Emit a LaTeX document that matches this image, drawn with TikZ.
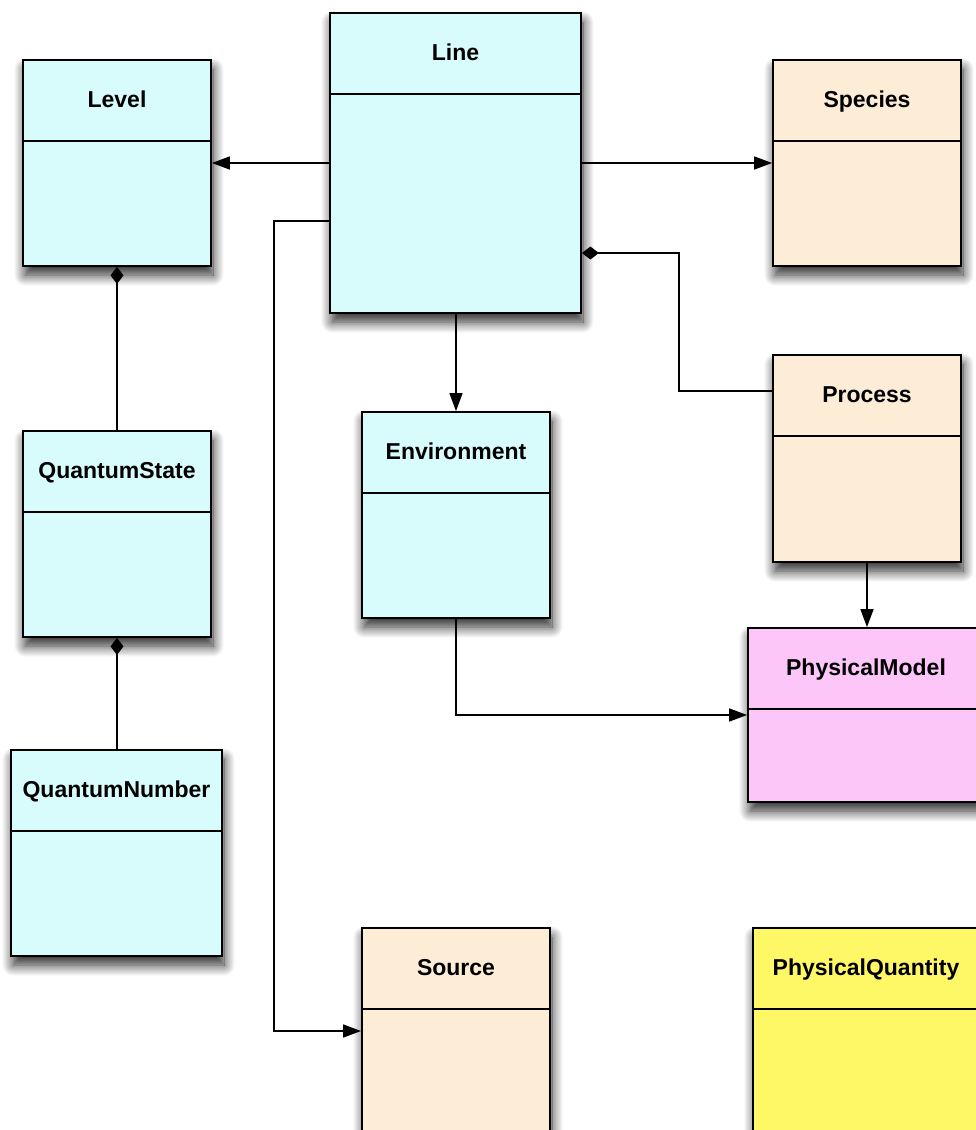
\documentclass[tikz,border=0pt]{standalone}
\usepackage{fontspec}
\setmainfont{Liberation Sans}
\usetikzlibrary{arrows.meta,shadows.blur,calc}
\definecolor{cyanc}{RGB}{216,252,252}
\definecolor{peach}{RGB}{253,236,214}
\definecolor{pinkc}{RGB}{252,198,248}
\definecolor{yellowc}{RGB}{255,248,102}
\tikzset{
  classbox/.style={draw=black, line width=1.8pt, rectangle, inner sep=0pt,
    blur shadow={shadow xshift=2pt, shadow yshift=-9pt, shadow blur radius=11pt, shadow opacity=85, shadow blur steps=14}},
  titletext/.style={anchor=base, inner sep=0pt, font=\bfseries\fontsize{23}{27}\selectfont},
  hdr/.style={line width=1.8pt},
  conn/.style={line width=1.6pt},
  assoc/.style={conn, -{Triangle[length=18pt,width=13pt]}},
  compo/.style={conn, {Diamond[length=17pt,width=13pt]}-},
}
\newcommand{\umlclass}[7]{%
  \node[classbox, fill=#6, minimum width=#4pt, minimum height=#5pt] (#1) at (#2,#3) {};
  \draw[hdr] ([yshift=-82pt]#1.north west) -- ([yshift=-82pt]#1.north east);
  \node[titletext] (#1-title) at ([yshift=-48pt]#1.north) {#7};
}
\begin{document}
\begin{tikzpicture}[x=1pt,y=-1pt]
\useasboundingbox (0,0) rectangle (976,1130);
\clip (0,0) rectangle (976,1130);
\umlclass{level}{117}{163}{188}{206}{cyanc}{Level}
\umlclass{line}{455.5}{163}{251}{300}{cyanc}{Line}
\umlclass{species}{867}{163}{188}{206}{peach}{Species}
\umlclass{process}{867}{458.5}{188}{207}{peach}{Process}
\umlclass{env}{456}{515}{188}{206}{cyanc}{Environment}
\umlclass{qstate}{117}{534}{188}{206}{cyanc}{QuantumState}
\umlclass{qnum}{116.5}{853}{211}{206}{cyanc}{QuantumNumber}
\umlclass{pmodel}{866}{715}{236}{174}{pinkc}{PhysicalModel}
\umlclass{source}{456}{1031}{188}{206}{peach}{Source}
\umlclass{pquant}{866}{1031}{226}{206}{yellowc}{PhysicalQuantity}

\draw[assoc] (line.west) -- (level.east);
\draw[assoc] (line.east) -- (species.west);
\draw[assoc] ([yshift=-58pt]line.west) -- ++(-55,0) |- (source.west);
\draw[assoc] (env.north |- line.south) -- (env.north);
\draw[compo] ([yshift=-90pt]line.east) -- ++(97,0) |- ([yshift=67.5pt]process.west);
\draw[compo] (level.south) -- (qstate.north);
\draw[compo] (qstate.south) -- (qstate.south |- qnum.north);
\draw[assoc] (process.south) -- (process.south |- pmodel.north);
\draw[assoc] (env.south) |- (pmodel.west);
\end{tikzpicture}
\end{document}
